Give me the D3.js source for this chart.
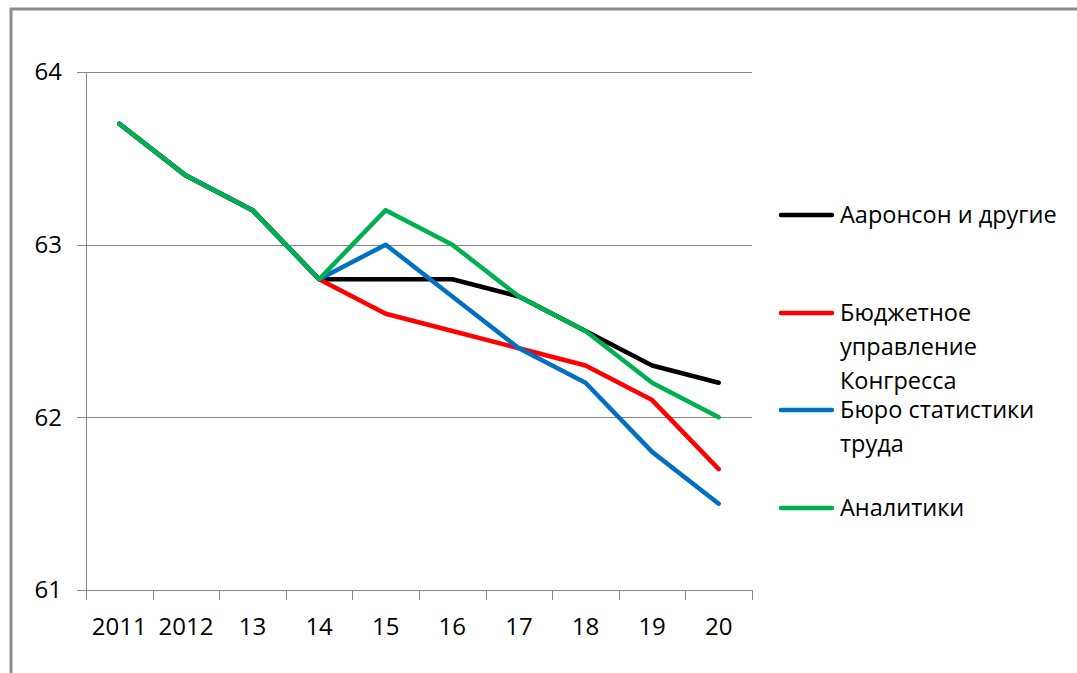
<!DOCTYPE html>
<html>
<head>
<meta charset="utf-8">
<script src="https://cdn.jsdelivr.net/npm/d3@7/dist/d3.min.js"></script>
<style>
  html, body { margin: 0; padding: 0; background: #fff; }
  svg { display: block; font-family: "Open Sans", "DejaVu Sans", sans-serif; }
</style>
</head>
<body>
<svg id="chart" width="1077" height="673"></svg>
<script>
// Forecast values by year
const years = ["2011", "2012", "13", "14", "15", "16", "17", "18", "19", "20"];
const aaronson = [63.7, 63.4, 63.2, 62.8, 62.8, 62.8, 62.7, 62.5, 62.3, 62.2];
const cbo      = [63.7, 63.4, 63.2, 62.8, 62.6, 62.5, 62.4, 62.3, 62.1, 61.7];
const bls      = [63.7, 63.4, 63.2, 62.8, 63.0, 62.7, 62.4, 62.2, 61.8, 61.5];
const analysts = [63.7, 63.4, 63.2, 62.8, 63.2, 63.0, 62.7, 62.5, 62.2, 62.0];
const yTicks = [61, 62, 63, 64];

const seriesNames = [
  ["Ааронсон и другие"],
  ["Бюджетное", "управление", "Конгресса"],
  ["Бюро статистики", "труда"],
  ["Аналитики"]
];
const seriesColors = ["#000000", "#ff0000", "#0070c0", "#00b050"];
const seriesValues = [aaronson, cbo, bls, analysts];

const svg = d3.select("#chart");
const plot = { left: 86, right: 752, top: 72, bottom: 590 };
const axisColor = "#868686";
const axisFont = 24;
const legendFont = 23.5;

// outer frame (clipped on the right and bottom by the page edge)
svg.append("rect")
  .attr("x", 11).attr("y", 9)
  .attr("width", 1100).attr("height", 700)
  .attr("fill", "none")
  .attr("stroke", "#8c8c8c")
  .attr("stroke-width", 3);

const x = d3.scaleBand().domain(years).range([plot.left, plot.right]).padding(0);
const y = d3.scaleLinear().domain([61, 64]).range([plot.bottom, plot.top]);

// horizontal gridlines with left tick marks
svg.append("g")
  .selectAll("line")
  .data(yTicks)
  .join("line")
  .attr("x1", plot.left - 9)
  .attr("x2", plot.right)
  .attr("y1", d => Math.round(y(d)) + 0.5)
  .attr("y2", d => Math.round(y(d)) + 0.5)
  .attr("stroke", axisColor)
  .attr("stroke-width", 1);

// y-axis labels
svg.append("g")
  .selectAll("text")
  .data(yTicks)
  .join("text")
  .attr("x", 62)
  .attr("y", d => y(d))
  .attr("dy", "0.35em")
  .attr("text-anchor", "end")
  .attr("font-size", axisFont)
  .attr("fill", "#000")
  .text(d => d);

// vertical axis line
svg.append("line")
  .attr("x1", plot.left + 0.5).attr("x2", plot.left + 0.5)
  .attr("y1", plot.top).attr("y2", plot.bottom)
  .attr("stroke", axisColor);

// x-axis with tick marks between categories
const xAxis = d3.axisBottom(x).tickSize(0).tickFormat(d => d);
const gx = svg.append("g")
  .attr("transform", `translate(0,${plot.bottom})`)
  .call(xAxis);
gx.select(".domain").remove();
gx.selectAll("text")
  .attr("font-size", axisFont)
  .attr("font-family", "\"Open Sans\", sans-serif")
  .attr("fill", "#000")
  .attr("y", 37)
  .attr("dy", "0.35em");

svg.append("line")
  .attr("x1", plot.left).attr("x2", plot.right)
  .attr("y1", plot.bottom + 0.5).attr("y2", plot.bottom + 0.5)
  .attr("stroke", axisColor);

const boundaries = years.map(d => x(d)).concat([x(years[years.length - 1]) + x.bandwidth()]);
svg.append("g")
  .selectAll("line")
  .data(boundaries)
  .join("line")
  .attr("x1", d => Math.round(d) + 0.5)
  .attr("x2", d => Math.round(d) + 0.5)
  .attr("y1", plot.bottom)
  .attr("y2", plot.bottom + 10)
  .attr("stroke", axisColor);

// series lines
const line = d3.line()
  .x((d, i) => x(years[i]) + x.bandwidth() / 2)
  .y(d => y(d));

svg.append("g")
  .selectAll("path")
  .data(seriesValues)
  .join("path")
  .attr("d", d => line(d))
  .attr("fill", "none")
  .attr("stroke", (d, i) => seriesColors[i])
  .attr("stroke-width", 4.5)
  .attr("stroke-linejoin", "round")
  .attr("stroke-linecap", "round");

// legend
const legendY = [215, 313, 410, 508];
const legend = svg.append("g");
seriesNames.forEach((lines, i) => {
  const g = legend.append("g").attr("transform", `translate(0,${legendY[i]})`);
  g.append("line")
    .attr("x1", 781).attr("x2", 832)
    .attr("y1", 0).attr("y2", 0)
    .attr("stroke", seriesColors[i])
    .attr("stroke-width", 4.5)
    .attr("stroke-linecap", "round");
  lines.forEach((t, j) => {
    g.append("text")
      .attr("x", 840)
      .attr("y", j * 34)
      .attr("dy", "0.35em")
      .attr("font-size", legendFont)
      .attr("fill", "#000")
      .text(t);
  });
});
</script>
</body>
</html>
